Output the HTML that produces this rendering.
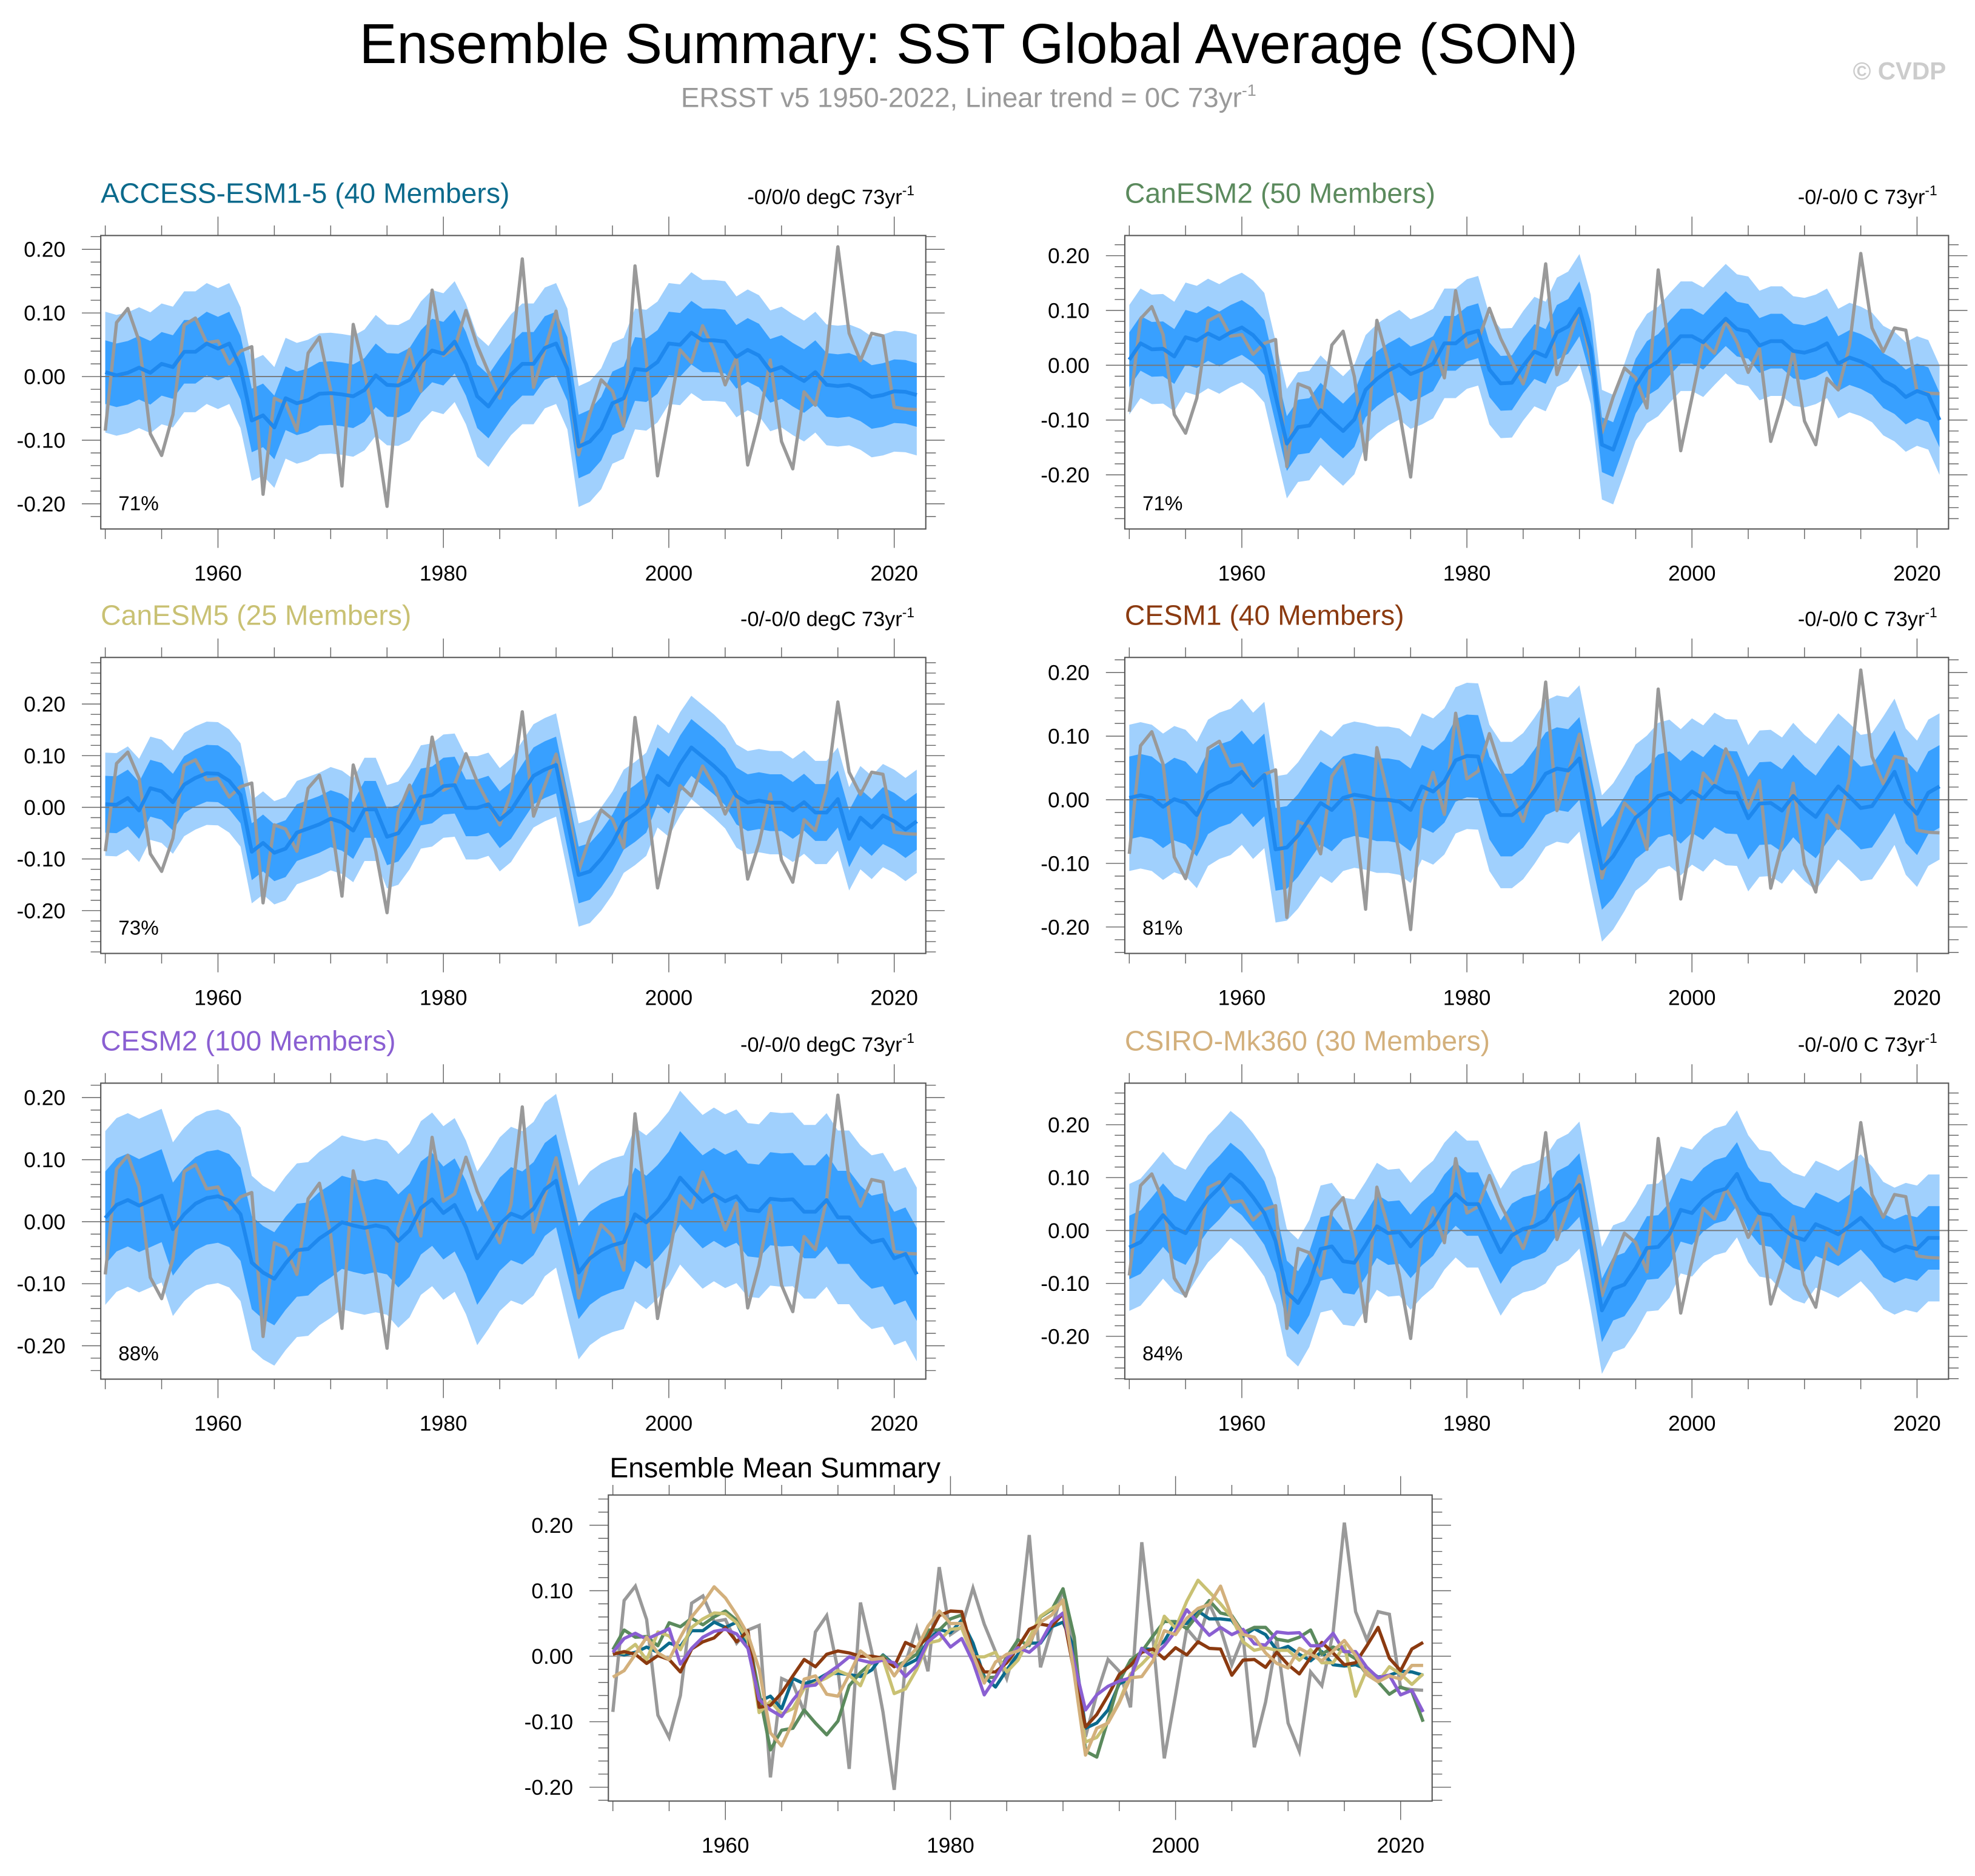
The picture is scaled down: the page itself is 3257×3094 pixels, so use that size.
<!DOCTYPE html>
<html><head><meta charset="utf-8">
<style>
html,body{margin:0;padding:0;background:#fff;}
svg{display:block;font-family:"Liberation Sans",Arial,sans-serif;}
</style></head>
<body>
<svg id="chart" width="3257" height="3094" viewBox="0 0 1568 1489.5" preserveAspectRatio="none" xmlns="http://www.w3.org/2000/svg">
<text x="769" y="50" text-anchor="middle" font-size="44.6" fill="#000">Ensemble Summary: SST Global Average (SON)</text>
<text x="769" y="85" text-anchor="middle" font-size="22" fill="#999">ERSST v5 1950-2022, Linear trend = 0C 73yr<tspan dy="-9" font-size="13">-1</tspan></text>
<text x="1545" y="63" text-anchor="end" font-size="19.5" font-weight="bold" fill="#ccc">© CVDP</text>
<g id="panels"></g>
</svg>
<script>
const years = Array.from({length:73},(_,i)=>1950+i);
const obs = [-0.085,0.085,0.107,0.056,-0.09,-0.124,-0.06,0.081,0.092,0.053,0.056,0.02,0.04,0.047,-0.185,-0.034,-0.042,-0.085,0.037,0.062,-0.021,-0.172,0.082,0.007,-0.085,-0.204,-0.01,0.043,-0.023,0.136,0.033,0.045,0.104,0.049,0.007,-0.034,0.028,0.185,-0.017,0.042,0.103,0.01,-0.123,-0.058,-0.005,-0.023,-0.078,0.174,0.026,-0.156,-0.059,0.042,0.022,0.08,0.042,-0.013,0.03,-0.139,-0.07,0.026,-0.102,-0.145,-0.024,-0.045,0.036,0.204,0.068,0.025,0.068,0.064,-0.048,-0.051,-0.052];
const accessMean = [0.007,0.002,0.006,0.014,0.006,0.02,0.015,0.039,0.039,0.052,0.044,0.052,0.014,-0.069,-0.061,-0.08,-0.034,-0.042,-0.037,-0.027,-0.026,-0.028,-0.031,-0.021,0.002,-0.013,-0.014,-0.005,0.023,0.041,0.036,0.055,0.02,-0.031,-0.047,-0.021,0.003,0.02,0.02,0.045,0.052,0.012,-0.11,-0.102,-0.082,-0.042,-0.034,0.012,0.01,0.023,0.052,0.05,0.069,0.057,0.057,0.055,0.031,0.042,0.033,0.009,0.015,0.003,-0.007,0.007,-0.013,-0.015,-0.013,-0.02,-0.032,-0.029,-0.023,-0.024,-0.029];
const canesm2Mean = [0.010,0.040,0.029,0.030,0.016,0.051,0.045,0.058,0.048,0.060,0.069,0.055,0.032,-0.056,-0.143,-0.113,-0.110,-0.082,-0.102,-0.120,-0.099,-0.045,-0.025,-0.010,0.001,-0.016,-0.008,0.003,0.040,0.040,0.057,0.063,-0.008,-0.033,-0.032,-0.001,0.025,0.016,0.060,0.071,0.103,0.029,-0.145,-0.154,-0.097,-0.038,-0.006,0.007,0.031,0.053,0.053,0.042,0.064,0.085,0.066,0.062,0.036,0.044,0.044,0.026,0.023,0.029,0.040,0.003,0.014,0.007,-0.004,-0.028,-0.039,-0.058,-0.047,-0.054,-0.100];
const canesm5Mean = [0.006,0.005,0.018,-0.006,0.037,0.031,0.010,0.044,0.057,0.066,0.065,0.051,0.024,-0.086,-0.069,-0.088,-0.080,-0.049,-0.041,-0.033,-0.022,-0.029,-0.045,-0.004,-0.004,-0.057,-0.050,-0.020,0.020,0.024,0.041,0.043,-0.001,-0.001,0.006,-0.024,-0.006,0.028,0.061,0.073,0.082,-0.024,-0.131,-0.124,-0.100,-0.069,-0.027,-0.012,0.006,0.061,0.043,0.084,0.116,0.098,0.080,0.059,0.022,0.009,0.013,0.009,0.009,-0.006,0.010,-0.010,-0.010,0.016,-0.061,-0.020,-0.039,-0.016,-0.027,-0.043,-0.027];
const cesm1Mean = [0.003,0.007,0.003,-0.011,0.001,-0.005,-0.024,0.011,0.022,0.028,0.044,0.022,0.039,-0.078,-0.075,-0.056,-0.030,-0.005,-0.016,0.003,0.008,0.005,0,0,-0.003,-0.016,0.021,0.013,0.029,0.062,0.069,0.068,0.003,-0.024,-0.024,-0.010,0.014,0.041,0.049,0.046,0.065,-0.025,-0.108,-0.089,-0.060,-0.028,-0.014,0.006,0.011,-0.004,0.013,0.002,0.022,0.012,0.011,-0.029,-0.006,-0.005,-0.017,0.006,-0.013,-0.027,-0.002,0.021,0.005,-0.013,-0.010,0.016,0.044,-0.003,-0.022,0.011,0.021];
const cesm2Mean = [0.006,0.027,0.035,0.026,0.034,0.042,-0.012,0.012,0.029,0.038,0.041,0.034,0.012,-0.066,-0.082,-0.092,-0.067,-0.046,-0.044,-0.027,-0.015,-0.001,-0.006,-0.010,-0.006,-0.010,-0.031,-0.014,0.022,0.036,0.014,0.027,-0.009,-0.059,-0.033,-0.004,0.013,0.006,0.021,0.052,0.066,-0.010,-0.082,-0.059,-0.046,-0.038,-0.033,0.012,-0.001,0.016,0.038,0.071,0.051,0.032,0.044,0.033,0.041,0.019,0.017,0.037,0.035,0.036,0.016,0.016,0.035,0.007,0.007,-0.017,-0.033,-0.029,-0.059,-0.052,-0.085];
const csiroMean = [-0.032,-0.022,0.003,0.029,0.005,-0.005,0.029,0.060,0.081,0.106,0.089,0.063,0.033,-0.020,-0.117,-0.137,-0.100,-0.035,-0.030,-0.058,-0.061,-0.028,0.008,-0.005,-0.003,-0.030,-0.006,0.012,0.046,0.069,0.050,0.050,0.003,-0.041,-0.009,0.003,0.008,0.020,0.052,0.063,0.086,-0.028,-0.151,-0.110,-0.102,-0.071,-0.033,-0.031,-0.007,0.039,0.033,0.058,0.073,0.079,0.107,0.060,0.033,0.029,0.005,-0.011,-0.018,0.012,0.003,-0.007,0.008,0.024,0.001,-0.028,-0.039,-0.030,-0.035,-0.014,-0.014];
const modelNames = ["ACCESS-ESM1-5 (40 Members)","CanESM2 (50 Members)","CanESM5 (25 Members)","CESM1 (40 Members)","CESM2 (100 Members)","CSIRO-Mk360 (30 Members)"];
const trendLabels = ["-0/0/0 degC 73yr","-0/-0/0 C 73yr","-0/-0/0 degC 73yr","-0/-0/0 C 73yr","-0/-0/0 degC 73yr","-0/-0/0 C 73yr"];
const pctLabels = ["71%","71%","73%","81%","88%","84%"];
const innerSpread = [0.05,0.05,0.055,0.065,0.075,0.06];
const outerSpread = [0.095,0.1,0.1,0.115,0.14,0.12];
const yTicks = [0.2,0.1,0,-0.1,-0.2];
const xTicks = [1960,1980,2000,2020];
const modelColors = ["#0b6a8c","#5b8a5d","#c9c173","#8b3a10","#8a5fd2","#d3b07c"];
const means = [accessMean,canesm2Mean,canesm5Mean,cesm1Mean,cesm2Mean,csiroMean];

const NS="http://www.w3.org/2000/svg";
const root=document.getElementById('panels');
function mk(tag,attrs,parent){const e=document.createElementNS(NS,tag);for(const k in attrs)e.setAttribute(k,attrs[k]);(parent||root).appendChild(e);return e;}

const layout=[
 {x0:80,x1:735,y0:187,y1:420,zero:299,px:505},
 {x0:893,x1:1547,y0:187,y1:420,zero:290,px:435},
 {x0:80,x1:735,y0:522,y1:757,zero:641,px:410},
 {x0:893,x1:1547,y0:522,y1:757,zero:635,px:505},
 {x0:80,x1:735,y0:860,y1:1095,zero:970,px:492.5},
 {x0:893,x1:1547,y0:860,y1:1095,zero:977,px:420},
 {x0:483,x1:1137,y0:1187,y1:1430,zero:1315,px:520}
];

function axes(L,g,name){
  const xs=yr=>L.x0+(yr-1949.6)*(L.x1-L.x0)/73.2;
  const ys=v=>L.zero-v*L.px;
  const clipId='clip-'+name;
  const cp=mk('clipPath',{id:clipId},g);
  mk('rect',{x:L.x0,y:L.y0,width:L.x1-L.x0,height:L.y1-L.y0},cp);
  for(let yr=1950;yr<=2022;yr+=5){
    const x=xs(yr);const major=(yr%20===0);const len=major?15:8;
    const t1=mk('line',{x1:x,x2:x,y1:L.y0,y2:L.y0-len,stroke:'#666','stroke-width':0.7},g);
    
    
    const t2=mk('line',{x1:x,x2:x,y1:L.y1,y2:L.y1+len,stroke:'#666','stroke-width':0.7},g);
    
    
  }
  xTicks.forEach(yr=>{
    const t=mk('text',{x:xs(yr),y:L.y1+41,'text-anchor':'middle','font-size':17,fill:'#000'},g);
    t.textContent=yr;
    
    
  });
  for(let k=-30;k<=30;k++){
    const v=k*0.02;const y=ys(v);
    if(y<L.y0-0.1||y>L.y1+0.1)continue;
    const major=(k%5===0);const len=major?15:8;
    const a=mk('line',{x1:L.x0,x2:L.x0-len,y1:y,y2:y,stroke:'#666','stroke-width':0.7},g);
    
    
    const b=mk('line',{x1:L.x1,x2:L.x1+len,y1:y,y2:y,stroke:'#666','stroke-width':0.7},g);
    
    
  }
  yTicks.forEach(v=>{
    const t=mk('text',{x:L.x0-28,y:ys(v)+6,'text-anchor':'end','font-size':17,fill:'#000'},g);
    t.textContent=v.toFixed(2);
    
    
  });
  return {xs,ys,clipId};
}
function pathOf(arr,xs,ys){return arr.map((v,i)=>(i?'L':'M')+xs(years[i]).toFixed(2)+','+ys(v).toFixed(2)).join('');}
function bandOf(arr,s,xs,ys){
  let d=arr.map((v,i)=>(i?'L':'M')+xs(years[i]).toFixed(2)+','+ys(v+s).toFixed(2)).join('');
  for(let i=arr.length-1;i>=0;i--)d+='L'+xs(years[i]).toFixed(2)+','+ys(arr[i]-s).toFixed(2);
  return d+'Z';
}

means.forEach((m,p)=>{
  const L=layout[p];
  const g=mk('g',{});
  
  
  const A=axes(L,g,'p'+p);
  const pg=mk('g',{'clip-path':'url(#'+A.clipId+')'},g);
  const ob=mk('path',{d:bandOf(m,outerSpread[p],A.xs,A.ys),fill:'#a0d0fd'},pg);
  
  
  const ib=mk('path',{d:bandOf(m,innerSpread[p],A.xs,A.ys),fill:'#38a0ff'},pg);
  
  
  const zl=mk('line',{x1:L.x0,x2:L.x1,y1:A.ys(0),y2:A.ys(0),stroke:'#777','stroke-width':0.9},pg);
  
  
  const ol=mk('path',{d:pathOf(obs,A.xs,A.ys),fill:'none',stroke:'#999','stroke-width':2.6,'stroke-linejoin':'round'},pg);
  
  
  const ml=mk('path',{d:pathOf(m,A.xs,A.ys),fill:'none',stroke:'#1e88ee','stroke-width':3,'stroke-linejoin':'round'},pg);
  
  
  const box=mk('rect',{x:L.x0,y:L.y0,width:L.x1-L.x0,height:L.y1-L.y0,fill:'none',stroke:'#555','stroke-width':1},g);
  
  
  const tt=mk('text',{x:L.x0,y:L.y0-26,'font-size':22.3,fill:modelColors[p]},g);
  tt.textContent=modelNames[p];
  
  
  const tr=mk('text',{x:L.x1-9,y:L.y0-25,'text-anchor':'end','font-size':16.5,fill:'#000'},g);
  tr.textContent=trendLabels[p];
  const sup=mk('tspan',{dy:-7,'font-size':11},tr);sup.textContent='-1';
  
  
  const pc=mk('text',{x:L.x0+14,y:L.y1-15,'font-size':16,fill:'#000'},g);
  pc.textContent=pctLabels[p];
  
  
});

(function(){
  const L=layout[6];
  const g=mk('g',{});
  
  
  const A=axes(L,g,'p6');
  const pg=mk('g',{'clip-path':'url(#'+A.clipId+')'},g);
  const zl=mk('line',{x1:L.x0,x2:L.x1,y1:A.ys(0),y2:A.ys(0),stroke:'#999','stroke-width':0.9},pg);
  
  
  const ol=mk('path',{d:pathOf(obs,A.xs,A.ys),fill:'none',stroke:'#999','stroke-width':2.6},pg);
  
  
  means.forEach((m,p)=>{
    const l=mk('path',{d:pathOf(m,A.xs,A.ys),fill:'none',stroke:modelColors[p],'stroke-width':2.6,'stroke-linejoin':'round'},pg);
    
    
  });
  const box=mk('rect',{x:L.x0,y:L.y0,width:L.x1-L.x0,height:L.y1-L.y0,fill:'none',stroke:'#555','stroke-width':1},g);
  
  
  const tt=mk('text',{x:L.x0+1,y:L.y0-14,'font-size':22.3,fill:'#000'},g);
  tt.textContent='Ensemble Mean Summary';
  
  
})();
</script>
</body></html>
